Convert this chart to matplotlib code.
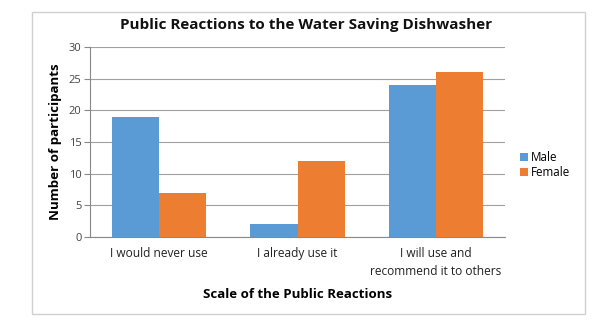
import numpy as np
import matplotlib as mpl

mpl.use('Agg')
import matplotlib.pyplot as plt
from matplotlib.patches import Rectangle

# data
categories = ['I would never use', 'I already use it', 'I will use and\nrecommend it to others']
male = [19, 2, 24]
female = [7, 12, 26]
yticks = [0, 5, 10, 15, 20, 25, 30]

plt.rcParams['font.family'] = ['Open Sans', 'DejaVu Sans']

W, H = 606, 332
figure = plt.figure(figsize=(W / 100, H / 100), dpi=100)

# outer chart border
figure.patches.append(Rectangle((32 / W, 1 - 314 / H), (585 - 32) / W, (314 - 12) / H,
                                transform=figure.transFigure, fill=False,
                                edgecolor='#d0d0d0', linewidth=1))

ax = figure.add_axes([90 / W, 1 - 237 / H, (505 - 90) / W, (237 - 47) / H])

x = np.arange(len(categories))
width = 0.34
ax.bar(x - width / 2, male, width, color='#5b9bd5', label='Male', zorder=3)
ax.bar(x + width / 2, female, width, color='#ed7d31', label='Female', zorder=3)

ax.set_xlim(-0.5, len(categories) - 0.5)
ax.set_ylim(0, 30)
ax.set_yticks(yticks)
ax.set_xticks(x)
ax.set_xticklabels(categories, fontsize=8.6, color='#222222', linespacing=1.55)
ax.tick_params(axis='x', length=0, pad=7)
ax.tick_params(axis='y', length=4, color='#888888', labelsize=8, labelcolor='#444444', pad=2)
ax.grid(True, axis='y', color='#a0a0a0', linewidth=0.8, zorder=0)

for side in ['top', 'right']:
    ax.spines[side].set_visible(False)
ax.spines['left'].set_color('#888888')
ax.spines['bottom'].set_color('#888888')

ax.set_title('Public Reactions to the Water Saving Dishwasher', fontsize=11,
             fontweight='bold', color='#111111', pad=13, x=0.52)
ax.set_xlabel('Scale of the Public Reactions', fontsize=9.5, fontweight='bold', labelpad=7)
ax.set_ylabel('Number of participants', fontsize=9.6, fontweight='bold', labelpad=5)

ax.legend(loc='center left', bbox_to_anchor=(1.025, 0.38), frameon=False, fontsize=8.4,
          handlelength=0.7, handleheight=0.7, handletextpad=0.25, labelspacing=0.15,
          borderaxespad=0)

figure.savefig('out.png', dpi=100)
plt.close(figure)
